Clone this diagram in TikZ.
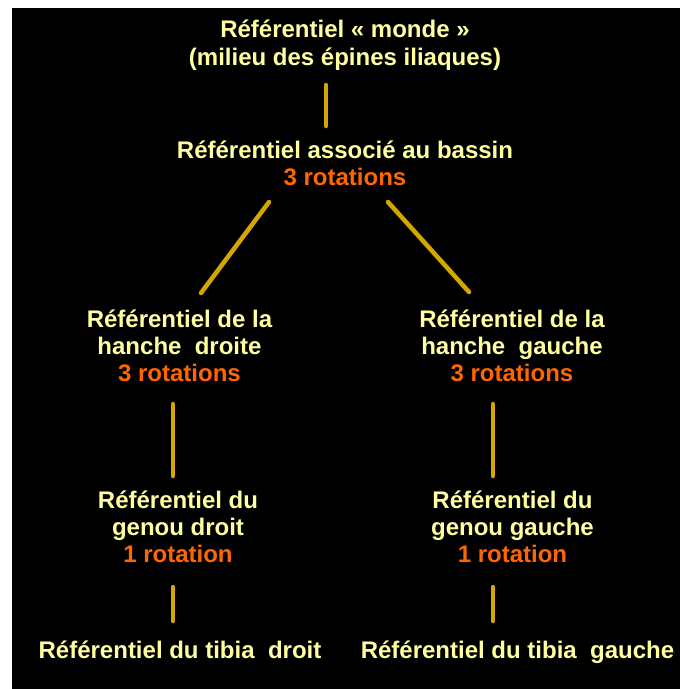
\documentclass[tikz,border=0pt]{standalone}
\usepackage{fontspec}
\setmainfont{Liberation Sans}
\definecolor{txt}{RGB}{255,255,160}
\definecolor{rot}{RGB}{255,102,0}
\definecolor{gold}{RGB}{212,166,0}
\begin{document}
\begin{tikzpicture}[x=1pt,y=-1pt,
  lbl/.style={inner sep=0pt,anchor=base,text=txt,font=\bfseries\fontsize{24}{27}\selectfont},
  link/.style={draw=gold,line width=4.5pt,line cap=round}]
\useasboundingbox (0,0) rectangle (680,689);
\fill[white] (0,0) rectangle (680,689);
\fill[black] (12,8) rectangle (680,689);
\node[lbl] (monde) at (345,37) {\begin{tabular}[t]{@{}c@{}}Référentiel « monde »\\[1pt](milieu des épines iliaques)\end{tabular}};
\node[lbl] (bassin) at (345,158) {\begin{tabular}[t]{@{}c@{}}Référentiel associé au bassin\\\textcolor{rot}{3 rotations}\end{tabular}};
\node[lbl] (hd) at (179.5,327) {\begin{tabular}[t]{@{}c@{}}Référentiel de la\\hanche~ droite\\\textcolor{rot}{3 rotations}\end{tabular}};
\node[lbl] (hg) at (512,327) {\begin{tabular}[t]{@{}c@{}}Référentiel de la\\hanche~ gauche\\\textcolor{rot}{3 rotations}\end{tabular}};
\node[lbl] (gd) at (178,508) {\begin{tabular}[t]{@{}c@{}}Référentiel du\\genou droit\\\textcolor{rot}{1 rotation}\end{tabular}};
\node[lbl] (gg) at (512.5,508) {\begin{tabular}[t]{@{}c@{}}Référentiel du\\genou gauche\\\textcolor{rot}{1 rotation}\end{tabular}};
\node[lbl] (td) at (180,658) {Référentiel du tibia~ droit};
\node[lbl] (tg) at (517.5,658) {Référentiel du tibia~ gauche};
% connector end points
\coordinate (m1) at (326,85);
\coordinate (b1) at (326,126);
\coordinate (bl) at (269,202);
\coordinate (hdt) at (201,293);
\coordinate (br) at (388,202);
\coordinate (hgt) at (469,292);
\coordinate (hdb) at (173,404);
\coordinate (gdt) at (173,476);
\coordinate (hgb) at (493,404);
\coordinate (ggt) at (493,476);
\coordinate (gdb) at (173,587);
\coordinate (tdt) at (173,621);
\coordinate (ggb) at (493,587);
\coordinate (tgt) at (493,621);
\draw[link] (m1) -- (b1);
\draw[link] (bl) -- (hdt);
\draw[link] (br) -- (hgt);
\draw[link] (hdb) -- (gdt);
\draw[link] (hgb) -- (ggt);
\draw[link] (gdb) -- (tdt);
\draw[link] (ggb) -- (tgt);
\end{tikzpicture}
\end{document}
